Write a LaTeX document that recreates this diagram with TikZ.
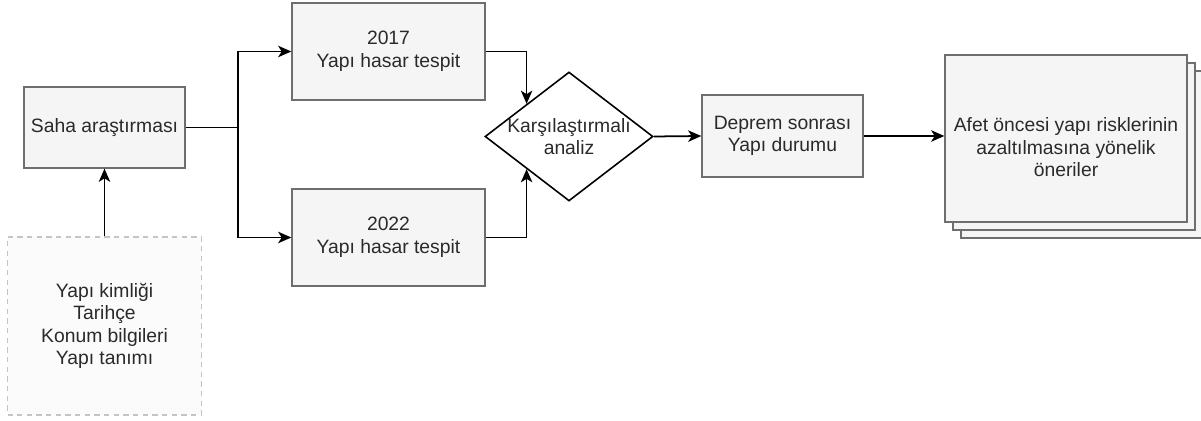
\documentclass[tikz,border=0pt]{standalone}
\usepackage{fontspec}
\setmainfont{Liberation Sans}
\usetikzlibrary{shapes.geometric,arrows.meta}
\definecolor{boxfill}{HTML}{F5F5F5}
\definecolor{boxline}{HTML}{6E6E6E}
\definecolor{txtgray}{HTML}{2A2A2A}
\definecolor{dashline}{HTML}{C4C4C4}
\definecolor{dashfill}{HTML}{FBFBFB}

\begin{document}
\begin{tikzpicture}[x=0.02cm,y=-0.02cm,
  font=\fontsize{11}{12.8}\selectfont, text=txtgray,
  sz/.style 2 args={minimum width=#1*0.02cm,minimum height=#2*0.02cm},
  box/.style={rectangle,draw=boxline,fill=boxfill,line width=0.75pt,align=center,inner sep=0},
  info/.style={rectangle,draw=dashline,fill=dashfill,dash pattern=on 3pt off 2.5pt,line width=0.6pt,align=center,inner sep=0},
  decide/.style={diamond,draw=black,fill=white,line width=0.9pt,inner sep=0},
  arr/.style={-{Stealth[length=7.5pt,width=6.5pt,inset=2pt]},line width=1pt},
  link/.style={line width=1pt}]
% canvas in pixel units of the source image
\useasboundingbox (0,0) rectangle (1201,421);
% left column
\node[box,sz={161}{81}] (saha) at (104.5,127.5) {Saha araştırması};
\node[info,sz={194}{178}] (info) at (104.5,326) {Yapı kimliği\\Tarihçe\\Konum bilgileri\\Yapı tanımı};
% damage surveys
\node[box,sz={193}{97}] (y17) at (388.5,51.5) {2017\\Yapı hasar tespit};
\node[box,sz={193}{97}] (y22) at (388.5,237.5) {2022\\Yapı hasar tespit};
% comparison
\node[decide,sz={168}{129},label={[align=center]center:Karşılaştırmalı\\analiz}] (ana) at (569,136.5) {};
\node[box,sz={161}{82}] (dep) at (782.5,136) {Deprem sonrası\\Yapı durumu};
% stacked result
\node[box,sz={242}{167}] (onr3) at (1082,154.5) {};
\node[box,sz={242}{167}] (onr2) at (1074,146.5) {};
\node[box,sz={242}{167},label={[align=center,yshift=-0.18cm]center:Afet öncesi yapı risklerinin\\azaltılmasına yönelik\\öneriler}] (onr) at (1066,138.5) {};
% connectors
\coordinate (split) at (238,127.5);
\draw[arr] (info.north) -- (saha.south);
\draw[link] (saha.east) -- (split);
\draw[arr] (split) |- (y17.west);
\draw[arr] (split) |- (y22.west);
\draw[arr] (y17.east) -| (ana.north west);
\draw[arr] (y22.east) -| (ana.south west);
\draw[arr] (ana.east) -- (dep.west);
\draw[arr] (dep.east) -- (dep.east -| onr.west);
\end{tikzpicture}
\end{document}
